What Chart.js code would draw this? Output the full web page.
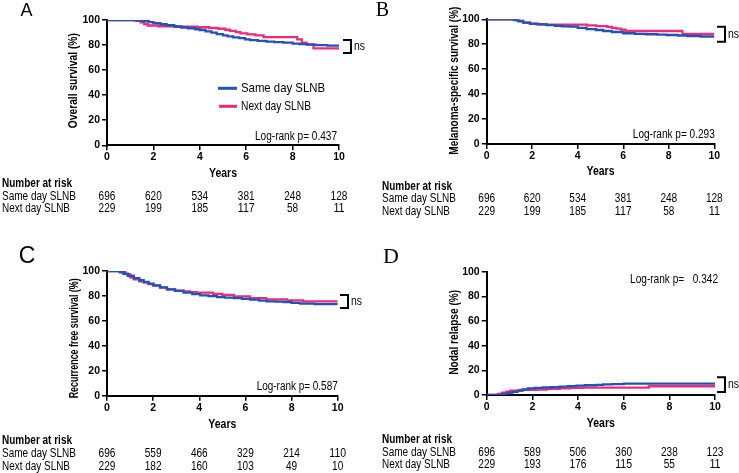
<!DOCTYPE html>
<html><head><meta charset="utf-8">
<script src="https://cdn.jsdelivr.net/npm/chart.js@4.4.0/dist/chart.umd.min.js"></script>
<style>
html,body{margin:0;padding:0;background:#fff;}
#wrap{position:relative;width:739px;height:473px;overflow:hidden;background:#fff;}
canvas{position:absolute;}
</style></head><body>
<div id="wrap">
<canvas id="cA" width="370" height="236" style="left:0;top:0"></canvas>
<canvas id="cB" width="369" height="236" style="left:370px;top:0"></canvas>
<canvas id="cC" width="370" height="237" style="left:0;top:236px"></canvas>
<canvas id="cD" width="369" height="237" style="left:370px;top:236px"></canvas>
</div>
<script>
// ---------- data ----------
const seriesNames = ['Same day SLNB', 'Next day SLNB'];
const riskTimes = [0, 2, 4, 6, 8, 10];
const xTicks = [0, 2, 4, 6, 8, 10];
const yTicks = [0, 20, 40, 60, 80, 100];

// A: Overall survival
const osSameT = [0,1.1,1.3,1.57,1.8,2.0,2.3,2.57,2.9,3.2,3.5,3.8,4.0,4.25,4.5,4.73,5.0,5.2,5.44,5.7,5.95,6.16,6.5,6.88,7.2,7.6,8.0,8.3,8.65,9.0,9.5,10];
const osSameV = [100,100,99.6,99.2,98.3,97.5,96.6,95.8,94.8,94.0,93.4,92.6,92.0,91.0,89.9,88.8,87.8,86.9,86.2,85.5,84.6,84.0,83.4,82.7,82.3,81.9,81.2,80.8,80.4,80.0,79.6,79.2];
const osNextT = [0,1.2,1.45,1.6,1.75,2.2,3.0,3.9,4.4,4.8,5.1,5.3,5.55,5.75,6.05,6.4,6.75,8.2,8.4,8.6,8.9,10];
const osNextV = [100,99.5,98.2,96.8,95.6,95.0,94.6,94.2,93.6,93.0,92.2,91.4,90.4,89.4,88.6,87.8,86.4,84.6,82.0,80.6,77.4,77.4];
const osRiskSame = [696, 620, 534, 381, 248, 128];
const osRiskNext = [229, 199, 185, 117, 58, 11];

// B: Melanoma-specific survival
const mssSameT = [0,1.0,1.2,1.4,1.61,1.9,2.2,2.64,3.0,3.3,3.66,4.0,4.39,4.8,5.12,5.5,6.0,6.5,7.0,7.5,7.9,8.4,8.8,9.4,10];
const mssSameV = [100,100,99.4,98.4,97.3,96.6,96.0,95.4,94.8,94.4,94.1,93.2,92.2,91.4,90.6,89.8,88.8,88.3,88.0,87.7,87.4,87.0,86.6,86.2,86.0];
const mssNextT = [0,1.17,1.35,1.6,1.9,2.3,2.6,4.4,4.8,5.3,5.5,5.7,5.9,6.1,8.6,10];
const mssNextV = [100,100,99.0,97.4,96.4,96.0,95.8,95.2,94.6,94.0,93.2,92.6,91.8,90.6,88.3,88.3];
const mssRiskSame = [696, 620, 534, 381, 248, 128];
const mssRiskNext = [229, 199, 185, 117, 58, 11];

// C: Recurrence free survival
const rfsSameT = [0,0.42,0.55,0.71,0.9,1.16,1.4,1.59,1.8,2.02,2.3,2.6,2.95,3.32,3.7,4.04,4.4,4.77,5.1,5.49,5.85,6.21,6.6,6.93,7.3,7.66,8.0,8.38,9.0,10];
const rfsSameV = [100,100,99.0,97.8,96.2,94.3,92.6,91.2,89.8,88.5,86.8,85.3,84.0,82.6,81.5,80.5,79.8,79.1,78.7,78.3,77.6,77.0,76.3,75.7,75.4,75.1,74.5,73.8,73.5,73.3];
const rfsNextT = [0,0.5,0.65,0.8,1.0,1.16,1.4,1.6,1.8,2.0,2.3,2.6,2.95,3.32,3.6,3.9,4.6,5.0,5.5,6.2,6.9,7.8,8.5,10];
const rfsNextV = [100,100,99.2,97.5,95.0,93.3,91.8,90.6,89.4,88.2,86.6,85.3,84.2,83.7,83.0,82.6,81.6,80.8,79.7,78.3,77.3,76.5,75.7,75.7];
const rfsRiskSame = [696, 559, 466, 329, 214, 110];
const rfsRiskNext = [229, 182, 160, 103, 49, 10];

// D: Nodal relapse (cumulative)
const nrSameT = [0,0.58,0.7,0.85,1.0,1.14,1.35,1.58,1.8,2.1,2.46,2.8,3.2,3.55,3.93,4.3,4.8,5.1,5.5,6.0,10];
const nrSameV = [0,0,0.6,1.3,2.0,2.6,3.6,4.5,5.3,5.7,6.1,6.4,6.8,7.2,7.6,7.9,8.2,8.6,8.9,9.3,9.3];
const nrNextT = [0,0.36,0.5,0.66,0.85,1.02,1.46,2.2,2.63,3.2,3.65,4.2,7.1,10];
const nrNextV = [0,0,0.8,1.9,2.8,3.5,4.2,4.4,5.0,5.4,5.7,6.0,7.1,7.1];
const nrRiskSame = [696, 589, 506, 360, 238, 123];
const nrRiskNext = [229, 193, 176, 115, 55, 11];

// ---------- styling ----------
function hasFont(name) {
  const c = document.createElement('canvas').getContext('2d');
  const s = 'abcdefghijklmnopqrstuvwxyzWWW0123456789';
  c.font = '40px monospace'; const a = c.measureText(s).width;
  c.font = '40px "' + name + '", monospace'; const b = c.measureText(s).width;
  return Math.abs(a - b) > 0.5;
}
const NARROW = hasFont('Liberation Sans Narrow');
const FAM = '"Liberation Sans", Arial, Helvetica, sans-serif';
const NFAM = NARROW ? '"Liberation Sans Narrow", ' + FAM : FAM;
const SERIF = '"Liberation Serif", "DejaVu Serif", serif';
const BLUE = '#2152b6';
const PINK = '#ee2a7b';
Chart.defaults.font.family = FAM;
Chart.defaults.color = '#000';
const tickFont = NARROW ? { family: NFAM, size: 12, weight: 'bold' } : { family: FAM, size: 10.5, weight: 'bold' };

function pts(t, v) { return t.map((x, i) => ({ x: x, y: v[i] })); }

const panelPlugin = {
  id: 'panel',
  afterDraw(chart, args, o) {
    const ctx = chart.ctx, ca = chart.chartArea, xs = chart.scales.x, ys = chart.scales.y;
    ctx.save();
    ctx.fillStyle = '#000';
    ctx.textBaseline = 'middle';
    // panel letter
    ctx.font = o.letterFont; ctx.textAlign = 'center';
    ctx.fillText(o.letter, o.letterX, o.letterY);
    // y title
    ctx.save();
    ctx.translate(ca.left + o.yTitleDX, (ca.top + ca.bottom) / 2 + o.yTitleDY);
    ctx.rotate(-Math.PI / 2);
    ctx.font = 'bold 12.5px ' + NFAM;
    ctx.fillText(o.yTitle, 0, 0, o.yTitleW);
    ctx.restore();
    // x title
    ctx.font = 'bold 12.5px ' + NFAM;
    ctx.fillText('Years', (ca.left + ca.right) / 2, o.yearsY, 28);
    // at-risk table
    ctx.textAlign = 'left';
    ctx.font = 'bold 12px ' + NFAM;
    ctx.fillText('Number at risk', o.labelX, o.rowY[0], 70);
    ctx.font = '12px ' + NFAM;
    ctx.fillText(seriesNames[0], o.labelX, o.rowY[1], 74);
    ctx.fillText(seriesNames[1], o.labelX, o.rowY[2], 68);
    ctx.textAlign = 'center';
    o.risk.forEach((row, i) => row.forEach((v, j) => {
      ctx.fillText(String(v), xs.getPixelForValue(riskTimes[j]), o.rowY[i + 1], 5.6 * String(v).length);
    }));
    // log-rank
    ctx.textAlign = 'right';
    ctx.font = '12px ' + NFAM;
    ctx.fillText(o.logrank, ca.right + o.lrDX, o.lrY, o.lrW);
    // ns bracket
    const yt = ys.getPixelForValue(o.ns[0]), yb = ys.getPixelForValue(o.ns[1]);
    const bx0 = ca.right + o.nsDX, bx1 = bx0 + 8;
    ctx.strokeStyle = '#000'; ctx.lineWidth = 2;
    ctx.beginPath(); ctx.moveTo(bx0, yt); ctx.lineTo(bx1, yt); ctx.lineTo(bx1, yb); ctx.lineTo(bx0, yb); ctx.stroke();
    ctx.textAlign = 'left'; ctx.font = '12px ' + NFAM;
    ctx.fillText('ns', bx1 + 3, (yt + yb) / 2, 11);
    // legend
    if (o.legend) {
      const ds = chart.data.datasets;
      ctx.lineWidth = 3;
      ctx.font = '13px ' + NFAM;
      o.legend.forEach((lg, i) => {
        ctx.strokeStyle = ds[i].borderColor;
        ctx.beginPath(); ctx.moveTo(lg[0], lg[2]); ctx.lineTo(lg[1], lg[2]); ctx.stroke();
        ctx.fillText(ds[i].label, lg[1] + 4, lg[2], lg[3]);
      });
    }
    ctx.restore();
  }
};

function makeChart(id, sameT, sameV, nextT, nextV, geom, panel) {
  const cv = document.getElementById(id);
  return new Chart(cv, {
    type: 'line',
    data: {
      datasets: [
        { label: seriesNames[0], data: pts(sameT, sameV), borderColor: BLUE, backgroundColor: BLUE, borderWidth: 2.3, pointRadius: 0, stepped: true, fill: false },
        { label: seriesNames[1], data: pts(nextT, nextV), borderColor: PINK, backgroundColor: PINK, borderWidth: 2.3, pointRadius: 0, stepped: true, fill: false }
      ]
    },
    options: {
      responsive: false,
      animation: false,
      layout: { padding: { left: 0, top: geom.T, right: geom.R, bottom: 0 } },
      plugins: { legend: { display: false }, tooltip: { enabled: false }, panel: panel },
      scales: {
        x: {
          type: 'linear', min: 0, max: 10,
          afterBuildTicks: s => { s.ticks = xTicks.map(v => ({ value: v })); },
          afterFit: s => { s.height = cv.height - geom.B; },
          ticks: { font: tickFont, color: '#000', padding: 1, maxRotation: 0 },
          grid: { drawOnChartArea: false, color: '#000', lineWidth: 1.5, tickLength: 5 },
          border: { color: '#000', width: 2 }
        },
        y: {
          type: 'linear', min: 0, max: 100,
          afterBuildTicks: s => { s.ticks = yTicks.map(v => ({ value: v })); },
          afterFit: s => { s.width = geom.L; },
          ticks: { font: tickFont, color: '#000', padding: 2 },
          grid: { drawOnChartArea: false, color: '#000', lineWidth: 1.5, tickLength: 5 },
          border: { color: '#000', width: 2 }
        }
      }
    },
    plugins: [panelPlugin]
  });
}

makeChart('cA', osSameT, osSameV, osNextT, osNextV,
  { L: 107, R: 31, T: 20, B: 145.3 },
  { letter: 'A', letterFont: '18px ' + FAM, letterX: 26.5, letterY: 11.5,
    yTitle: 'Overall survival (%)', yTitleDX: -33, yTitleDY: -2, yTitleW: 95,
    yearsY: 174, labelX: 2, rowY: [183.3, 196.7, 209], risk: [osRiskSame, osRiskNext],
    logrank: 'Log-rank p= 0.437', lrDX: -2, lrY: 136.7, lrW: 82,
    ns: [84, 73.7], nsDX: 4,
    legend: [[218, 237, 88.3, 84], [219, 237, 106.3, 70]] });

makeChart('cB', mssSameT, mssSameV, mssNextT, mssNextV,
  { L: 116.7, R: 24.7, T: 19.3, B: 144 },
  { letter: 'B', letterFont: '20px ' + SERIF, letterX: 12.5, letterY: 10.5,
    yTitle: 'Melanoma-specific survival (%)', yTitleDX: -31.7, yTitleDY: -1, yTitleW: 148,
    yearsY: 172, labelX: 12, rowY: [186.7, 199, 211.7], risk: [mssRiskSame, mssRiskNext],
    logrank: 'Log-rank p= 0.293', lrDX: 0.5, lrY: 135, lrW: 82,
    ns: [94, 82], nsDX: 2.7, legend: null });

makeChart('cC', rfsSameT, rfsSameV, rfsNextT, rfsNextV,
  { L: 107, R: 32.3, T: 35, B: 159.7 },
  { letter: 'C', letterFont: '23px ' + FAM, letterX: 27, letterY: 20.5,
    yTitle: 'Recurrence free survival (%)', yTitleDX: -32, yTitleDY: 5, yTitleW: 120,
    yearsY: 188.3, labelX: 2, rowY: [205, 217.3, 230.7], risk: [rfsRiskSame, rfsRiskNext],
    logrank: 'Log-rank p= 0.587', lrDX: 0, lrY: 150.7, lrW: 81,
    ns: [80.8, 70.3], nsDX: 2.3, legend: null });

makeChart('cD', nrSameT, nrSameV, nrNextT, nrNextV,
  { L: 116.7, R: 24, T: 35.7, B: 159 },
  { letter: 'D', letterFont: '22px ' + SERIF, letterX: 21, letterY: 21.5,
    yTitle: 'Nodal relapse (%)', yTitleDX: -31.7, yTitleDY: -1, yTitleW: 85,
    yearsY: 187.3, labelX: 12, rowY: [204, 216.3, 228.3], risk: [nrRiskSame, nrRiskNext],
    logrank: 'Log-rank p=   0.342', lrDX: 3, lrY: 44, lrW: 88,
    ns: [14.4, 2.4], nsDX: 2, legend: null });
</script>
</body></html>
